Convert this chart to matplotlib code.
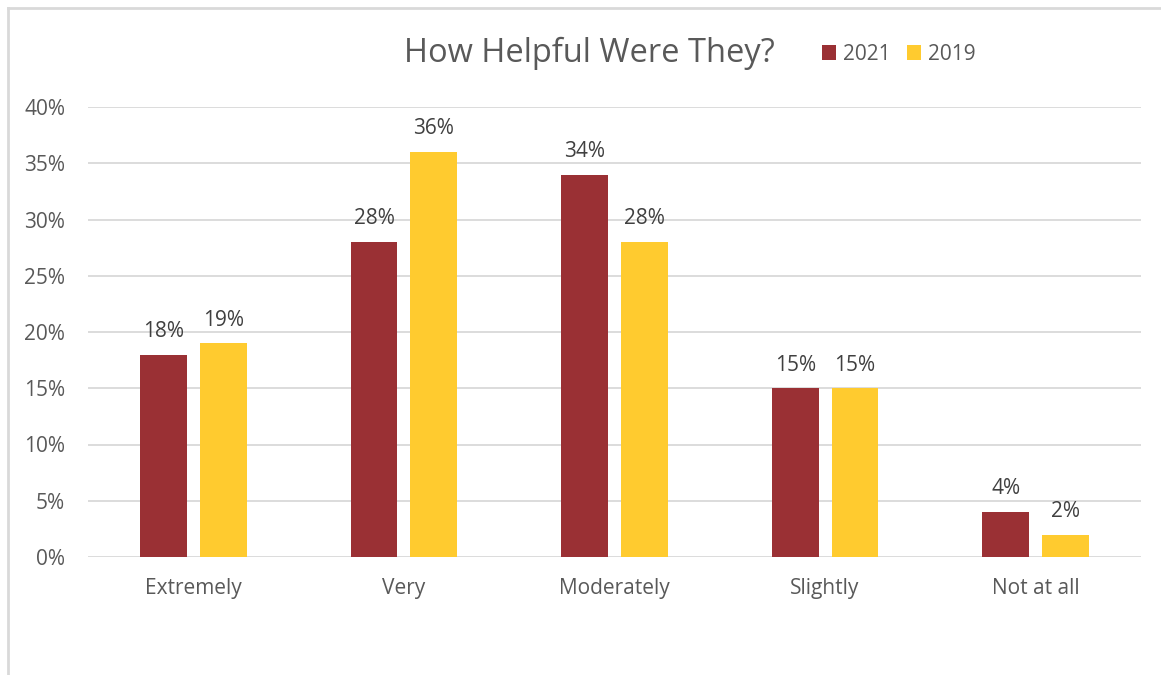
import matplotlib
matplotlib.use("Agg")
import matplotlib.pyplot as plt
from matplotlib.patches import Patch
from matplotlib.lines import Line2D
import numpy as np

categories = ["Extremely", "Very", "Moderately", "Slightly", "Not at all"]
series_names = ["2021", "2019"]
values_2021 = [18, 28, 34, 15, 4]
values_2019 = [19, 36, 28, 15, 2]
yticks = [0, 5, 10, 15, 20, 25, 30, 35, 40]

c2021 = "#9A3034"
c2019 = "#FFCB2F"
txt = "#595959"
grid = "#D9D9D9"

plt.rcParams['font.family'] = ['Open Sans', 'DejaVu Sans']

W, H = 1161, 675
fig = plt.figure(figsize=(W / 100, H / 100), dpi=100)
fig.patch.set_facecolor("white")

# chart border (top and left visible)
fig.add_artist(Line2D([7.5 / W, 1.0], [1 - 7.5 / H, 1 - 7.5 / H], color=grid, lw=2, transform=fig.transFigure))
fig.add_artist(Line2D([7.5 / W, 7.5 / W], [0, 1 - 7.5 / H], color=grid, lw=2, transform=fig.transFigure))

left, right = 88 / W, 1141 / W
bottom, top = 1 - 557 / H, 1 - 107 / H
ax = fig.add_axes([left, bottom, right - left, top - bottom])

x = np.arange(len(categories))
bw = 0.223
off = 0.142
b1 = ax.bar(x - off, values_2021, bw, color=c2021, zorder=3)
b2 = ax.bar(x + off, values_2019, bw, color=c2019, zorder=3)

for bars, vals in ((b1, values_2021), (b2, values_2019)):
    for rect, v in zip(bars, vals):
        ax.annotate(f"{v}%", (rect.get_x() + rect.get_width() / 2, v),
                    xytext=(0, 9), textcoords="offset points",
                    ha="center", va="bottom", fontsize=15, color="#404040")

ax.set_xlim(-0.5, len(categories) - 0.5)
ax.set_ylim(0, 40)
ax.set_yticks(yticks)
ax.set_yticklabels([f"{t}%" for t in yticks])
ax.set_xticks(x)
ax.set_xticklabels(categories)
ax.tick_params(axis="both", length=0, colors=txt, labelsize=15)
ax.tick_params(axis="y", pad=16.5)
ax.tick_params(axis="x", pad=15)
ax.yaxis.grid(True, color=grid, lw=1.3, zorder=0)
ax.set_axisbelow(True)
for s in ax.spines.values():
    s.set_visible(False)

fig.text(589 / W, 1 - 53 / H, "How Helpful Were They?", ha="center", va="center",
         fontsize=23.5, color=txt)

handles = [Patch(facecolor=c2021), Patch(facecolor=c2019)]
fig.legend(handles, series_names, loc="center left", bbox_to_anchor=(803 / W, 1 - 54 / H),
           ncol=2, frameon=False, fontsize=15, labelcolor=txt,
           handlelength=0.7, handleheight=0.7, handletextpad=0.3, columnspacing=0.8)

fig.savefig("out.png", dpi=100)
